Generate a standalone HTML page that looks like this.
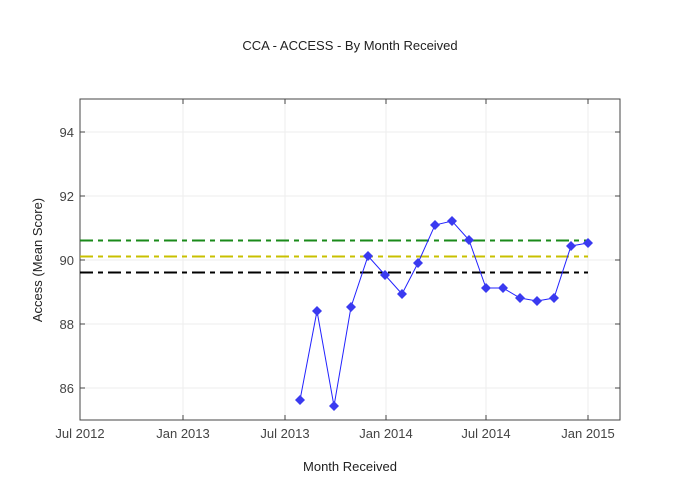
<!DOCTYPE html>
<html><head><meta charset="utf-8"><style>body{margin:0;background:#fff}svg{display:block}text{font-family:"Liberation Sans",sans-serif;fill:#444}</style></head><body>
<svg width="700" height="500" xmlns="http://www.w3.org/2000/svg">
<rect width="700" height="500" fill="#fff"/>
<g stroke="#eee" stroke-width="1">
<line x1="80" x2="620" y1="132" y2="132"/><line x1="80" x2="620" y1="196" y2="196"/><line x1="80" x2="620" y1="260" y2="260"/><line x1="80" x2="620" y1="324" y2="324"/><line x1="80" x2="620" y1="388" y2="388"/>
<line x1="183" x2="183" y1="99" y2="420"/><line x1="285" x2="285" y1="99" y2="420"/><line x1="386" x2="386" y1="99" y2="420"/><line x1="486" x2="486" y1="99" y2="420"/><line x1="588" x2="588" y1="99" y2="420"/>
</g>
<g stroke="#444" stroke-width="1">
<line x1="80" x2="85" y1="132" y2="132"/><line x1="80" x2="85" y1="196" y2="196"/><line x1="80" x2="85" y1="260" y2="260"/><line x1="80" x2="85" y1="324" y2="324"/><line x1="80" x2="85" y1="388" y2="388"/>
<line x1="615" x2="620" y1="132" y2="132"/><line x1="615" x2="620" y1="196" y2="196"/><line x1="615" x2="620" y1="260" y2="260"/><line x1="615" x2="620" y1="324" y2="324"/><line x1="615" x2="620" y1="388" y2="388"/>
<line x1="183" x2="183" y1="415" y2="420"/><line x1="285" x2="285" y1="415" y2="420"/><line x1="386" x2="386" y1="415" y2="420"/><line x1="486" x2="486" y1="415" y2="420"/><line x1="588" x2="588" y1="415" y2="420"/>
<line x1="183" x2="183" y1="99" y2="104"/><line x1="285" x2="285" y1="99" y2="104"/><line x1="386" x2="386" y1="99" y2="104"/><line x1="486" x2="486" y1="99" y2="104"/><line x1="588" x2="588" y1="99" y2="104"/>
</g>
<rect x="80" y="99" width="540" height="321" fill="none" stroke="#444" stroke-width="1"/>
<g stroke-width="2" stroke-dasharray="13,5,5,5" fill="none">
<line x1="80" x2="588" y1="240.5" y2="240.5" stroke="#1a8a1a"/>
<line x1="80" x2="588" y1="256.5" y2="256.5" stroke="#c8c000"/>
<line x1="80" x2="588" y1="272.5" y2="272.5" stroke="#000"/>
</g>
<polyline fill="none" stroke="#2222ff" stroke-width="1" points="300,400 317,311 334,406 351,307 368,256 385,275 402,294 418,263 435,225 452,221 469,240 486,288 503,288 520,298 537,301 554,298 571,246 588,243"/>
<g fill="#3a3af0">
<path d="M300,395l5,5l-5,5l-5,-5z"/><path d="M317,306l5,5l-5,5l-5,-5z"/><path d="M334,401l5,5l-5,5l-5,-5z"/><path d="M351,302l5,5l-5,5l-5,-5z"/><path d="M368,251l5,5l-5,5l-5,-5z"/><path d="M385,270l5,5l-5,5l-5,-5z"/><path d="M402,289l5,5l-5,5l-5,-5z"/><path d="M418,258l5,5l-5,5l-5,-5z"/><path d="M435,220l5,5l-5,5l-5,-5z"/><path d="M452,216l5,5l-5,5l-5,-5z"/><path d="M469,235l5,5l-5,5l-5,-5z"/><path d="M486,283l5,5l-5,5l-5,-5z"/><path d="M503,283l5,5l-5,5l-5,-5z"/><path d="M520,293l5,5l-5,5l-5,-5z"/><path d="M537,296l5,5l-5,5l-5,-5z"/><path d="M554,293l5,5l-5,5l-5,-5z"/><path d="M571,241l5,5l-5,5l-5,-5z"/><path d="M588,238l5,5l-5,5l-5,-5z"/>
</g>
<g font-size="13" text-anchor="end">
<text x="74" y="137">94</text><text x="74" y="201">92</text><text x="74" y="265">90</text><text x="74" y="329">88</text><text x="74" y="393">86</text>
</g>
<g font-size="13" text-anchor="middle">
<text x="80" y="438">Jul 2012</text><text x="183" y="438">Jan 2013</text><text x="285" y="438">Jul 2013</text><text x="386" y="438">Jan 2014</text><text x="486" y="438">Jul 2014</text><text x="588" y="438">Jan 2015</text>
<text x="350" y="471" style="fill:#222">Month Received</text>
<text x="350" y="50" style="fill:#222">CCA - ACCESS - By Month Received</text>
<text transform="translate(42,260) rotate(-90)" style="fill:#222">Access (Mean Score)</text>
</g>
</svg>
</body></html>
